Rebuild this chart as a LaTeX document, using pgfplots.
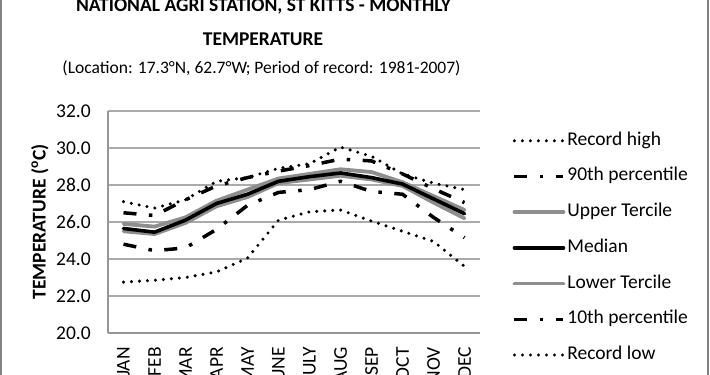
\documentclass[border=0pt]{standalone}
\usepackage{pgfplots}
\pgfplotsset{compat=1.18}
\usepackage{fontspec}
\setmainfont{Carlito}
\definecolor{gridgray}{RGB}{170,170,170}
\definecolor{axisgray}{RGB}{150,150,150}
\definecolor{tgray}{RGB}{142,142,142}
\definecolor{bordergray}{RGB}{130,130,130}

\pgfplotstableread{
x rhigh p90 upper median lower p10 rlow
0  27.10 26.50 25.90 25.65 25.50 24.80 22.75
1  26.75 26.35 25.75 25.45 25.35 24.45 22.85
2  27.20 27.20 26.25 26.10 25.95 24.60 23.00
3  28.20 27.95 27.15 27.00 26.85 25.60 23.30
4  28.40 28.40 27.75 27.50 27.35 26.90 24.05
5  28.90 28.75 28.35 28.20 28.10 27.60 26.10
6  29.15 29.05 28.60 28.45 28.30 27.75 26.55
7  30.05 29.40 28.85 28.65 28.50 28.20 26.65
8  29.55 29.30 28.70 28.40 28.30 27.65 26.05
9  28.60 28.60 28.15 28.05 27.95 27.50 25.50
10 28.10 27.80 27.40 27.25 27.05 26.25 24.95
11 27.75 27.05 26.65 26.45 26.20 25.15 23.60
}\datatable

\tikzset{
  dotline/.style={black, line width=3.4pt, line cap=round, dash pattern=on 0pt off 8pt},
  dashdotline/.style={black, line width=3.5pt, line cap=butt, dash pattern=on 13pt off 12.5pt on 3.5pt off 12.5pt},
  grayline/.style={tgray, line width=3.8pt, line cap=round, line join=round},
  medline/.style={black, line width=3.6pt, line cap=round, line join=round},
}

\begin{document}
\begin{tikzpicture}[font=\fontsize{19.5pt}{23pt}\selectfont]
\path[use as bounding box] (0pt,0pt) rectangle (710pt,375pt);
\draw[bordergray, line width=2pt] (1pt,0pt) -- (1pt,375pt);
\draw[bordergray, line width=2pt] (708pt,0pt) -- (708pt,375pt);
\begin{axis}[
  at={(108pt,42pt)}, anchor=south west,
  scale only axis, width=372pt, height=222pt,
  xmin=-0.5, xmax=11.5, ymin=20, ymax=32,
  xtick={0,...,11},
  xticklabels={JAN,FEB,MAR,APR,MAY,JUNE,JULY,AUG,SEP,OCT,NOV,DEC},
  ytick={20,22,...,32},
  /pgf/number format/assume math mode=true,
  yticklabel={\pgfmathprintnumber[fixed,fixed zerofill,precision=1]{\tick}},
  major tick length=0pt,
  xticklabel style={rotate=90, anchor=east, inner sep=0pt},
  xticklabel shift=14pt,
  yticklabel style={anchor=east, inner sep=0pt},
  yticklabel shift=17pt,
  axis x line*=bottom, axis y line*=left,
  axis line style={-, axisgray, line width=1.2pt},
  ymajorgrids, grid style={gridgray, line width=1.2pt},
  every axis y label/.style={at={(axis description cs:-0.183,0.5)}, rotate=90, anchor=center},
  ylabel={\bfseries TEMPERATURE (\textsuperscript{o}C)},
  legend style={at={(1.087,0.905)}, anchor=north west, draw=none, fill=none,
    inner sep=0pt, row sep=18.7pt, column sep=2pt, cells={anchor=west},
    nodes={inner sep=0pt, text height=13pt, text depth=4pt}},
  legend image code/.code={\draw[#1] (0pt,0pt) -- (49pt,0pt);},
]
\addlegendimage{dotline}\addlegendentry{Record high}
\addlegendimage{dashdotline}\addlegendentry{90th percentile}
\addlegendimage{grayline}\addlegendentry{Upper Tercile}
\addlegendimage{medline}\addlegendentry{Median}
\addlegendimage{grayline}\addlegendentry{Lower Tercile}
\addlegendimage{dashdotline}\addlegendentry{10th percentile}
\addlegendimage{dotline}\addlegendentry{Record low}

\addplot[dotline, forget plot] table[x=x, y=rhigh] {\datatable};
\addplot[dashdotline, forget plot] table[x=x, y=p90] {\datatable};
\addplot[grayline, forget plot] table[x=x, y=upper] {\datatable};
\addplot[grayline, forget plot] table[x=x, y=lower] {\datatable};
\addplot[medline, forget plot] table[x=x, y=median] {\datatable};
\addplot[dashdotline, forget plot] table[x=x, y=p10] {\datatable};
\addplot[dotline, forget plot] table[x=x, y=rlow] {\datatable};
\end{axis}
\node[anchor=base, font=\fontsize{19.5pt}{23pt}\selectfont\bfseries] at (263.5pt,363.3pt) {NATIONAL AGRI STATION, ST KITTS - MONTHLY};
\node[anchor=base, font=\fontsize{19.5pt}{23pt}\selectfont\bfseries] at (263pt,329.3pt) {TEMPERATURE};
\node[anchor=base, font=\fontsize{17.5pt}{21pt}\selectfont] at (261.5pt,301pt) {(Location: 17.3°N, 62.7°W; Period of record: 1981-2007)};
\end{tikzpicture}
\end{document}
